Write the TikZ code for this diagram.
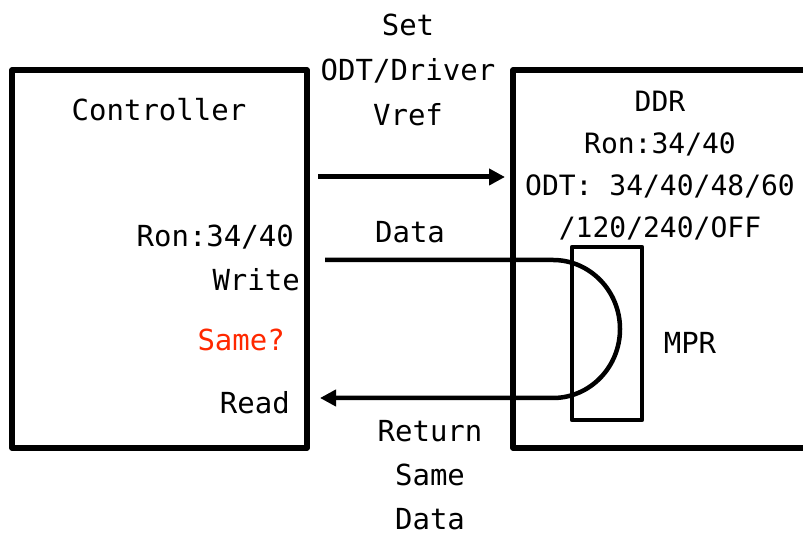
\documentclass[tikz,border=0pt]{standalone}
\usepackage{fontspec}
\setmonofont{DejaVu Sans Mono}
\usepackage{xcolor}
\usetikzlibrary{arrows.meta}
\definecolor{samered}{RGB}{255,40,0}

\begin{document}
\begin{tikzpicture}[x=1pt,y=1pt,
	box/.style={draw,line width=5.5pt,line join=round,inner sep=0pt},
	lbl/.style={font=\fontsize{29}{45}\selectfont\ttfamily,inner sep=0pt},
	sig/.style={line width=5pt,-{Triangle[length=16pt,width=16pt]}}]
	
	\clip (0,0) rectangle (803,537);
	
	% --- Controller ---
	\node[box,minimum width=295pt,minimum height=378pt] (ctrl) at (159.5,278) {};
	\node[lbl] (ctrlname) at (159,427) {Controller};
	\node[lbl,anchor=east] (ctrlron) at (294,300) {Ron:34/40};
	\node[lbl,anchor=east] (write) at (300,257) {Write};
	\node[lbl,anchor=east,text=samered] (same) at (285,197) {Same?};
	\node[lbl,anchor=east] (read) at (290,134) {Read};
	
	% --- DDR (runs off the right edge) ---
	\node[box,minimum width=317pt,minimum height=378pt] (ddr) at (671.5,278) {};
	\node[lbl,align=center,font=\fontsize{28}{42}\selectfont\ttfamily] (ddrtext) at (660,371)
	{DDR\\Ron:34/40\\ODT: 34/40/48/60\\/120/240/OFF};
	
	% MPR register
	\node[box,line width=4.5pt,minimum width=70pt,minimum height=173pt] (mpr) at (607,203.5) {};
	\node[lbl] (mprname) at (690,194) {MPR};
	
	% --- set ODT/Driver/Vref ---
	\node[lbl,align=center] (setlbl) at (408,467) {Set\\ODT/Driver\\Vref};
	\coordinate (setA) at (318,360);
	\coordinate (setB) at (505,360);
	\draw[sig] (setA) -- (setB);
	
	% --- write data, loop back through MPR, read ---
	\node[lbl] (datalbl) at (410,305) {Data};
	\coordinate (wr) at (325,277);
	\coordinate (loop) at (553,277);
	\coordinate (rd) at (320,139);
	\draw[sig,line width=4.5pt] (wr) -- (loop)
	arc[start angle=90,end angle=-90,x radius=67,y radius=69] -- (rd);
	\node[lbl,align=center,font=\fontsize{29}{44}\selectfont\ttfamily] (retlbl) at (430,62)
	{Return\\Same\\Data};
	
\end{tikzpicture}
\end{document}
